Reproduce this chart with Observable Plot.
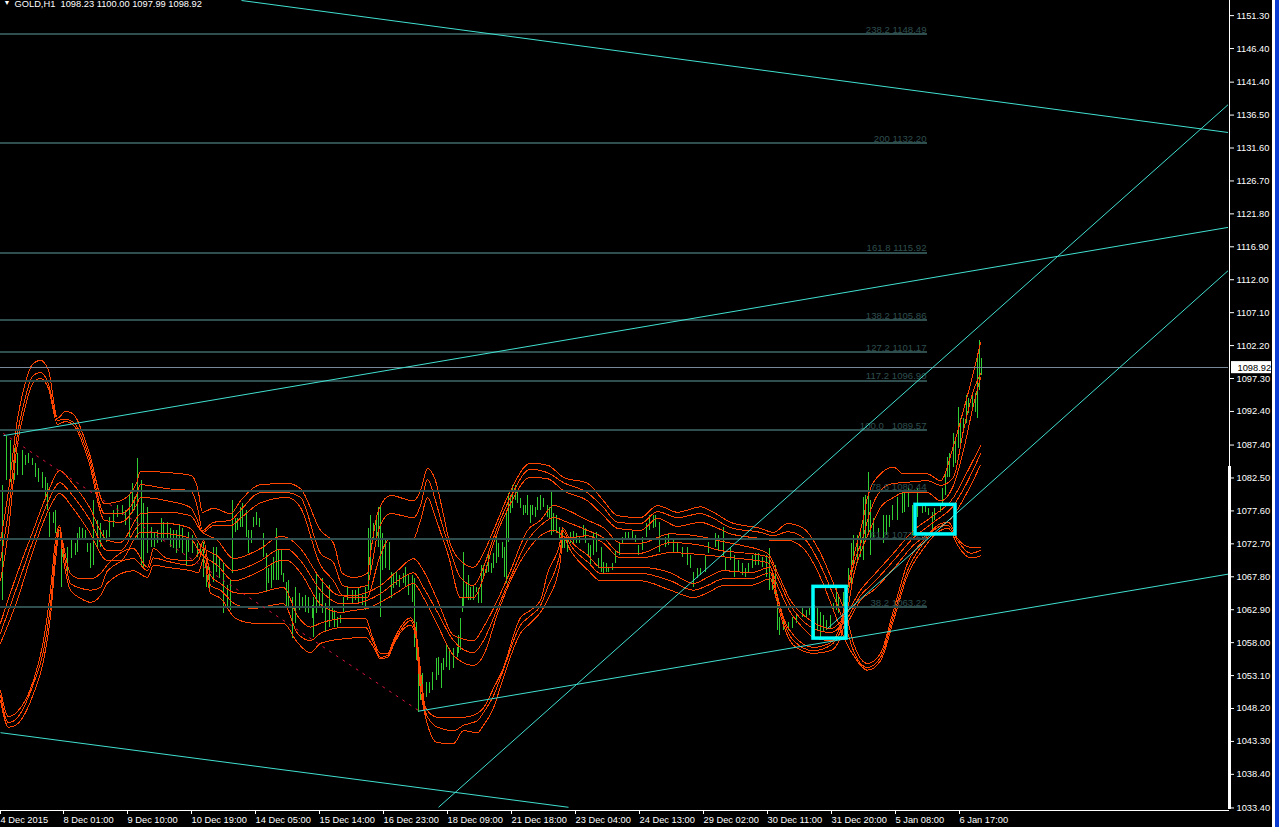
<!DOCTYPE html>
<html><head><meta charset="utf-8">
<script src="https://cdn.jsdelivr.net/npm/d3@7"></script>
<script src="https://cdn.jsdelivr.net/npm/@observablehq/plot@0.6"></script>
<style>
html,body{margin:0;padding:0;background:#000;overflow:hidden}
#c{position:absolute;left:0;top:0}
.s1{position:absolute;left:1272px;top:0;width:3px;height:827px;background:#fff}
.s2{position:absolute;left:1275px;top:0;width:4px;height:827px;background:#0a3cd2}
</style></head><body>
<div id="c"></div><div class="s1"></div><div class="s2"></div>
<script>
const header = "GOLD,H1  1098.23 1100.00 1097.99 1098.92";
const priceTicks = [1151.30,1146.40,1141.40,1136.50,1131.60,1126.70,1121.80,1116.90,1112.00,1107.10,1102.20,1097.30,1092.40,1087.40,1082.50,1077.60,1072.70,1067.80,1062.90,1058.00,1053.10,1048.20,1043.30,1038.40,1033.40];
const timeTicks = [1,64,128,192,256,320,384,448,512,576,640,704,768,832,896,960];
const timeLabels = ["4 Dec 2015","8 Dec 01:00","9 Dec 10:00","10 Dec 19:00","14 Dec 05:00","15 Dec 14:00","16 Dec 23:00","18 Dec 09:00","21 Dec 18:00","23 Dec 04:00","24 Dec 13:00","29 Dec 02:00","30 Dec 11:00","31 Dec 20:00","5 Jan 08:00","6 Jan 17:00"];
const fibLevels = [1148.49,1132.20,1115.92,1105.86,1101.17,1096.90,1089.57,1080.44,1073.28,1063.22];
const fibLabels = ["238.2 1148.49","200 1132.20","161.8 1115.92","138.2 1105.86","127.2 1101.17","117.2 1096.90","100.0\u00a0\u00a0\u00a01089.57","78.6 1080.44","61.8 1073.28","38.2 1063.22"];
const lastPrice = 1098.92;

const barSlots = [2,6,10,14,17,22,25,28,32,35,38,42,45,47,49,53,55,57,61,63,67,71,75,77,79,82,85,87,90,93,97,100,103,106,109,113,117,122,125,129,132,134,137,141,143,147,151,154,157,161,163,167,170,173,176,179,182,186,188,192,197,200,203,206,209,213,216,219,223,227,230,232,235,237,240,242,246,248,251,253,256,259,263,266,268,271,273,276,278,281,283,286,288,292,295,299,302,305,308,312,313,316,319,322,325,329,332,334,337,340,343,347,352,355,358,362,365,368,370,373,376,378,380,382,385,389,391,393,396,399,403,405,408,412,414,416,418,420,422,426,429,432,436,438,441,443,446,449,453,457,458,460,462,463,466,468,470,473,476,478,481,483,486,488,491,493,496,498,502,504,506,508,510,512,515,517,520,523,525,527,530,532,535,537,540,543,547,549,551,553,556,559,562,564,567,570,573,576,579,583,585,588,590,593,596,598,601,603,606,608,612,615,619,622,625,628,632,635,638,642,646,649,653,655,659,665,668,673,677,682,687,690,693,697,700,705,708,715,718,723,725,730,734,738,742,745,748,752,755,758,762,766,769,772,775,777,779,783,788,792,796,802,806,809,814,817,820,823,826,830,833,836,838,843,846,848,851,853,857,860,863,865,868,870,873,878,883,886,889,892,897,902,904,908,912,917,922,925,928,932,934,940,942,945,947,949,953,955,958,960,963,966,968,972,975,977,979,981];
const barHigh = [1081.4,1088.7,1088.1,1086.9,1086.2,1086.6,1085.9,1086.2,1085.4,1084.7,1083.9,1083.3,1082.6,1081.7,1077.4,1077.4,1077.7,1074.4,1073.2,1071.4,1072.2,1073.2,1072.8,1074.2,1075.1,1075.0,1074.7,1072.8,1072.8,1079.1,1076.2,1075.7,1074.7,1074.7,1076.6,1077.7,1078.4,1078.4,1077.7,1079.9,1081.7,1079.6,1085.4,1082.1,1078.7,1078.1,1075.1,1074.2,1074.7,1076.5,1075.9,1075.9,1075.0,1074.7,1074.7,1075.4,1075.0,1073.6,1074.4,1073.9,1072.8,1072.0,1072.9,1070.2,1069.2,1072.2,1072.2,1070.6,1069.8,1066.5,1067.2,1079.1,1076.5,1076.5,1078.1,1078.7,1077.7,1074.7,1074.7,1076.6,1077.4,1076.5,1074.2,1071.3,1069.0,1069.8,1070.6,1075.0,1071.7,1071.7,1068.3,1066.9,1067.2,1064.7,1066.2,1065.3,1064.7,1065.0,1064.7,1063.5,1064.7,1068.4,1065.3,1067.5,1063.8,1066.5,1063.1,1062.8,1061.7,1062.0,1064.7,1066.2,1065.8,1065.8,1066.2,1065.0,1066.2,1075.0,1076.9,1075.7,1076.5,1078.1,1078.1,1074.2,1073.2,1072.9,1068.4,1068.3,1068.4,1068.0,1068.3,1069.2,1068.0,1068.0,1067.5,1061.0,1055.8,1054.3,1053.4,1052.1,1052.1,1053.6,1055.6,1055.8,1054.9,1055.6,1057.9,1057.1,1057.1,1057.3,1059.1,1061.6,1064.7,1071.4,1066.8,1068.0,1066.2,1066.5,1066.2,1066.1,1069.5,1069.5,1069.5,1070.9,1069.8,1071.3,1073.9,1072.8,1072.9,1072.2,1077.4,1080.2,1079.9,1081.4,1081.4,1080.3,1079.4,1078.4,1078.4,1079.9,1078.4,1078.4,1078.1,1079.6,1079.9,1079.4,1078.4,1078.1,1080.6,1077.2,1076.9,1075.1,1075.1,1073.6,1073.2,1074.4,1074.5,1074.2,1073.6,1075.4,1075.0,1072.8,1072.5,1074.2,1074.4,1070.5,1072.2,1069.9,1069.8,1069.0,1069.8,1071.7,1072.9,1073.6,1074.4,1074.4,1074.5,1073.9,1072.5,1073.6,1075.7,1076.9,1076.9,1076.9,1075.9,1073.6,1074.2,1073.2,1072.8,1072.2,1072.2,1070.9,1068.4,1069.0,1069.0,1070.9,1072.9,1074.2,1073.9,1075.1,1070.6,1072.2,1070.9,1070.2,1069.8,1069.0,1069.8,1070.9,1071.3,1071.3,1070.6,1070.9,1072.0,1068.7,1069.5,1064.7,1061.7,1061.3,1061.0,1061.7,1062.3,1063.1,1062.8,1063.2,1063.5,1063.1,1062.5,1062.0,1061.3,1062.0,1063.8,1066.5,1064.7,1065.4,1066.1,1069.0,1072.8,1073.9,1073.9,1074.7,1079.6,1079.9,1083.3,1079.1,1076.5,1075.0,1076.9,1076.9,1076.9,1078.4,1079.6,1080.6,1080.6,1080.9,1078.4,1080.9,1078.4,1078.4,1078.0,1077.4,1078.0,1078.7,1080.9,1083.1,1085.5,1086.2,1089.1,1088.5,1093.0,1091.3,1091.3,1094.8,1094.3,1095.1,1095.1,1100.3,1103.0,1100.3];
const barLow = [1064.3,1082.1,1081.8,1082.1,1082.9,1082.9,1084.4,1084.7,1084.4,1082.6,1081.8,1080.9,1079.1,1077.7,1073.6,1075.7,1074.2,1072.8,1066.2,1069.8,1068.0,1070.5,1070.9,1071.4,1073.2,1073.5,1073.2,1071.4,1069.0,1069.5,1072.2,1072.2,1073.5,1072.9,1073.6,1075.1,1076.6,1076.9,1075.4,1073.6,1077.2,1077.7,1073.2,1069.5,1069.2,1071.3,1072.2,1072.2,1072.8,1072.9,1073.2,1073.2,1072.2,1072.0,1071.3,1072.0,1071.3,1069.5,1071.4,1071.3,1070.6,1071.3,1067.7,1066.2,1066.1,1066.9,1068.4,1067.5,1062.3,1063.2,1062.8,1068.3,1074.4,1074.7,1075.1,1075.1,1073.6,1071.3,1072.8,1075.1,1075.4,1075.1,1070.6,1065.4,1066.8,1066.1,1067.2,1067.2,1067.2,1068.0,1066.9,1063.1,1063.2,1058.6,1060.9,1062.8,1063.2,1062.5,1062.3,1061.6,1058.8,1062.3,1063.2,1062.3,1059.5,1060.3,1061.3,1060.3,1060.1,1060.9,1062.3,1064.3,1063.8,1064.3,1063.8,1063.5,1062.8,1065.8,1068.7,1073.2,1073.2,1072.2,1061.7,1068.7,1069.0,1068.7,1064.6,1066.1,1066.5,1066.2,1066.8,1066.2,1065.0,1064.0,1057.3,1055.3,1047.6,1049.4,1048.9,1049.8,1050.4,1050.9,1052.4,1053.1,1051.2,1053.9,1054.3,1053.9,1054.2,1055.8,1056.4,1056.8,1062.5,1063.2,1064.6,1064.3,1064.3,1064.3,1065.4,1063.8,1063.8,1067.5,1068.3,1068.4,1068.3,1069.0,1069.8,1070.6,1070.5,1067.7,1066.8,1072.9,1077.2,1078.0,1079.1,1078.7,1078.0,1076.9,1077.2,1076.9,1075.7,1076.9,1076.6,1077.7,1077.7,1078.1,1076.6,1076.5,1073.9,1074.4,1074.2,1073.5,1072.0,1072.0,1071.4,1072.8,1072.8,1072.8,1072.8,1073.6,1072.8,1070.9,1069.5,1070.9,1071.4,1069.0,1068.4,1068.3,1068.4,1068.4,1068.7,1069.8,1070.9,1072.8,1073.5,1073.5,1073.5,1072.9,1070.9,1071.7,1073.6,1074.7,1075.0,1075.1,1071.4,1072.2,1072.5,1071.3,1071.3,1070.6,1069.5,1069.0,1066.2,1067.5,1068.0,1068.4,1071.3,1072.2,1071.7,1070.6,1068.7,1070.2,1067.7,1068.4,1068.0,1067.7,1068.4,1069.0,1069.5,1069.5,1069.2,1067.7,1065.8,1065.8,1064.7,1059.8,1059.1,1059.8,1059.8,1060.1,1060.9,1061.7,1061.7,1062.0,1058.8,1059.8,1058.6,1059.5,1059.8,1060.1,1062.5,1062.8,1062.3,1062.8,1064.0,1066.2,1066.2,1069.8,1069.8,1070.6,1070.2,1073.2,1074.2,1070.9,1073.6,1073.5,1072.8,1073.9,1075.1,1076.2,1076.2,1077.2,1077.4,1078.1,1073.9,1076.6,1077.2,1077.4,1076.9,1074.7,1076.2,1077.4,1078.7,1079.9,1082.6,1082.6,1084.1,1084.7,1086.9,1087.3,1089.1,1090.6,1092.1,1092.6,1092.2,1091.3,1095.5,1097.7];

const upperSlots = [0,8,16,24,32,40,48,57,65,72,88,104,120,136,140,167,190,197,202,213,230,240,260,287,300,320,333,342,353,367,370,378,390,413,420,427,435,442,448,460,473,483,493,510,530,547,563,587,603,617,640,657,677,700,713,730,760,773,787,803,820,833,847,853,867,880,893,907,923,940,948,957,970,980];
const upper1 = [1073.2,1080.6,1090.3,1096.2,1099.4,1100.0,1098.5,1091.4,1092.4,1092.1,1086.6,1078.7,1079.1,1081.7,1083.5,1083.3,1082.9,1081.1,1077.4,1078.0,1077.2,1079.1,1081.5,1081.7,1080.9,1074.7,1072.8,1068.3,1067.7,1068.3,1071.3,1077.7,1079.9,1079.1,1080.6,1083.9,1082.1,1077.7,1073.6,1070.2,1069.2,1071.3,1074.7,1080.6,1084.7,1084.4,1082.6,1081.7,1079.1,1076.9,1076.6,1078.4,1077.4,1078.2,1077.4,1075.9,1075.0,1074.4,1075.7,1075.0,1071.3,1066.8,1061.3,1057.9,1054.9,1056.4,1062.8,1069.8,1073.2,1075.7,1075.9,1073.5,1072.2,1072.2];
const upper2 = [1070.2,1077.7,1088.1,1094.0,1097.6,1098.2,1096.5,1091.1,1091.2,1090.9,1085.9,1077.2,1077.2,1079.9,1081.5,1080.9,1080.6,1078.1,1074.7,1075.9,1076.2,1077.7,1080.3,1080.3,1079.6,1071.3,1069.9,1066.5,1066.2,1066.5,1068.4,1074.7,1077.2,1076.6,1078.4,1082.3,1079.1,1075.4,1072.5,1067.7,1066.5,1069.2,1073.6,1079.6,1083.8,1083.3,1081.8,1080.3,1078.1,1075.9,1075.7,1077.5,1076.6,1077.2,1076.5,1075.1,1074.4,1073.9,1074.5,1073.6,1069.5,1065.0,1059.5,1056.8,1054.3,1055.8,1062.0,1068.7,1072.8,1075.3,1075.4,1073.2,1071.3,1071.7];
const upper3 = [1067.2,1074.7,1086.6,1092.6,1096.5,1097.3,1095.8,1090.5,1090.9,1090.5,1085.1,1076.2,1075.9,1078.5,1079.6,1079.1,1078.1,1076.2,1074.4,1075.4,1075.4,1076.5,1078.8,1079.6,1078.1,1069.5,1067.2,1065.0,1064.7,1064.7,1065.8,1070.2,1073.5,1073.5,1076.2,1079.6,1076.6,1073.6,1070.9,1064.7,1064.7,1067.7,1072.8,1078.7,1082.6,1082.4,1080.6,1079.1,1076.9,1075.0,1074.7,1076.5,1075.3,1075.9,1075.3,1074.2,1073.5,1073.2,1073.2,1072.0,1067.7,1062.8,1057.6,1056.1,1053.9,1055.3,1061.3,1068.0,1072.0,1074.7,1075.0,1072.5,1070.6,1070.9];

const middleSlots = [0,16,32,48,59,72,88,107,120,136,140,167,190,200,217,233,260,280,287,300,320,340,353,367,380,397,413,423,437,453,473,483,497,510,527,540,553,567,587,603,620,640,670,700,720,740,767,777,790,800,813,830,847,860,873,893,913,933,953,965,980];
const middle1 = [1060.9,1068.0,1074.4,1080.6,1083.6,1081.7,1078.4,1073.2,1072.9,1076.5,1077.2,1077.4,1076.9,1074.7,1073.2,1070.5,1072.0,1073.8,1073.6,1072.0,1067.5,1065.0,1065.0,1065.5,1066.5,1068.7,1070.5,1068.7,1064.3,1059.1,1058.3,1060.3,1064.3,1068.7,1074.7,1076.2,1078.4,1077.7,1076.2,1075.1,1072.8,1072.8,1074.2,1073.8,1073.1,1072.5,1071.3,1068.4,1064.3,1062.5,1061.0,1060.1,1062.5,1065.8,1068.0,1071.3,1074.7,1076.9,1079.6,1082.9,1087.3];
const middle2 = [1059.4,1066.1,1072.9,1079.1,1081.8,1079.9,1076.6,1071.7,1071.7,1075.1,1075.7,1075.7,1075.0,1072.5,1070.9,1068.7,1070.2,1071.9,1071.9,1070.2,1065.8,1063.8,1063.8,1064.3,1065.3,1067.2,1068.4,1066.2,1062.5,1058.3,1056.5,1058.3,1063.1,1067.7,1073.2,1075.4,1076.6,1075.9,1074.7,1073.6,1071.3,1071.3,1072.9,1072.5,1071.7,1071.4,1070.8,1067.7,1063.5,1061.6,1060.1,1059.5,1061.7,1065.0,1066.9,1070.2,1073.6,1075.9,1078.4,1081.4,1086.1];
const middle3 = [1057.9,1064.0,1071.4,1077.7,1080.2,1078.1,1074.7,1070.2,1070.2,1073.9,1074.4,1074.2,1073.5,1071.3,1069.5,1067.2,1068.7,1070.2,1070.2,1068.4,1063.7,1062.5,1062.8,1063.1,1064.0,1065.5,1066.8,1064.7,1060.6,1056.1,1054.6,1056.1,1062.3,1067.2,1071.7,1073.9,1074.7,1073.6,1073.9,1072.8,1070.6,1070.6,1071.4,1071.1,1070.8,1070.5,1069.9,1066.5,1062.5,1060.6,1058.8,1058.3,1061.0,1064.3,1065.8,1069.0,1072.5,1074.7,1076.9,1079.9,1084.4];

const lowerSlots = [0,8,16,33,43,50,55,59,62,70,80,90,100,107,133,147,153,167,190,198,203,210,220,235,253,283,297,310,320,345,365,372,380,387,393,400,410,415,420,425,437,453,463,477,483,493,502,520,530,540,547,560,562,570,588,600,640,670,693,707,723,750,770,775,783,793,813,830,840,847,853,863,867,880,893,903,927,940,953,963,973,980];
const lower1 = [1050.9,1047.0,1047.6,1052.4,1058.3,1065.8,1073.2,1075.4,1073.2,1068.3,1067.5,1067.5,1068.3,1069.6,1072.0,1069.2,1072.0,1070.5,1070.2,1071.3,1073.2,1068.0,1066.8,1065.4,1065.3,1066.2,1062.0,1060.3,1060.9,1061.6,1061.6,1058.8,1056.4,1056.4,1058.3,1060.3,1061.7,1060.1,1053.9,1048.3,1046.9,1046.9,1046.9,1047.5,1048.3,1051.2,1053.9,1061.7,1062.8,1064.3,1068.3,1073.2,1075.1,1073.2,1070.9,1069.2,1069.2,1068.4,1066.8,1067.7,1068.7,1068.4,1069.2,1066.2,1061.7,1059.1,1057.3,1058.0,1060.6,1066.2,1070.6,1076.6,1079.6,1083.1,1084.1,1083.1,1083.1,1082.1,1087.3,1092.6,1098.2,1102.6];
const lower2 = [1050.1,1046.1,1046.7,1051.9,1056.8,1063.5,1071.7,1075.1,1072.5,1066.8,1066.1,1065.8,1066.2,1068.7,1070.5,1068.7,1070.6,1070.1,1069.5,1070.2,1072.0,1066.5,1065.8,1063.7,1063.1,1063.8,1059.4,1058.3,1059.4,1060.3,1060.3,1058.3,1055.8,1056.1,1057.9,1059.8,1061.3,1059.5,1052.4,1047.6,1045.4,1044.9,1045.7,1046.4,1047.6,1050.1,1053.6,1060.6,1062.0,1063.5,1066.2,1071.7,1074.7,1072.5,1069.9,1068.3,1068.3,1067.2,1065.8,1066.5,1067.5,1067.5,1068.4,1065.8,1061.3,1058.3,1056.8,1057.6,1059.8,1065.0,1069.5,1073.9,1076.2,1080.6,1081.7,1081.8,1082.1,1081.4,1082.6,1089.6,1095.5,1098.0];
const lower3 = [1049.4,1045.4,1045.8,1050.4,1055.3,1062.0,1070.2,1074.7,1071.3,1065.8,1064.6,1064.0,1065.0,1066.9,1068.7,1067.7,1069.5,1069.2,1068.7,1068.4,1070.5,1065.4,1064.6,1061.6,1060.9,1060.9,1058.0,1056.5,1057.9,1058.6,1058.8,1057.6,1055.6,1055.8,1057.6,1059.5,1060.6,1059.1,1050.9,1047.0,1043.1,1043.0,1044.9,1044.6,1045.7,1048.3,1052.4,1059.4,1060.9,1062.5,1064.3,1070.2,1073.9,1071.7,1068.7,1067.2,1067.2,1065.8,1064.7,1065.4,1066.5,1066.5,1067.5,1065.0,1060.6,1057.6,1056.4,1056.8,1058.8,1062.8,1068.0,1072.5,1073.9,1078.1,1079.6,1080.3,1080.3,1079.1,1081.4,1086.6,1093.4,1097.4];

const trendStartSlot = [241,3,418,438,827,0];
const trendEndSlot = [1228,1228,1228,1228,1228,568];
const trendStartPrice = [1153.55,1088.8,1047.8,1033.5,1060.1,1044.6];
const trendEndPrice = [1133.9,1119.8,1068.2,1138.1,1113.4,1033.5];
const zigzagSlot = [3,418];
const zigzagPrice = [1089.1,1047.9];
const boxSlotL = [813,915], boxSlotR = [846,955], boxTop = [1066.3,1078.5], boxBottom = [1058.6,1074.1];

const ORANGE = "#FF4500", FIB = "#2F4F4F", TREND = "#40E0D0";
const band = (slots, vals) => Plot.line(vals, {x: slots, y: vals, stroke: ORANGE, strokeWidth: 1, curve: "monotone-x", shapeRendering: "crispEdges"});

const chart = Plot.plot({
  width: 1279, height: 827,
  marginLeft: 0, marginRight: 51, marginTop: 0, marginBottom: 18,
  x: {domain: [0, 1228], axis: null},
  y: {domain: [1033.17, 1153.55], axis: null},
  style: {background: "#000", color: "#fff", fontFamily: "'Liberation Sans', sans-serif", fontSize: "9.3px", overflow: "visible"},
  marks: [
    Plot.ruleX(barSlots, {x: barSlots, y1: barHigh, y2: barLow, stroke: "#32CD32", strokeWidth: 1.2, shapeRendering: "crispEdges"}),
    ...[upper1, upper2, upper3].map(v => band(upperSlots, v)),
    ...[middle1, middle2, middle3].map(v => band(middleSlots, v)),
    ...[lower1, lower2, lower3].map(v => band(lowerSlots, v)),
    Plot.ruleY(fibLevels, {y: d => d, x1: 0, x2: 927, stroke: FIB, strokeWidth: 2, dy: -0.5, shapeRendering: "crispEdges"}),
    Plot.text(fibLabels, {x: 926, y: fibLevels, text: d => d, textAnchor: "end", dy: -5, fill: FIB, fontSize: 9.6}),
    Plot.ruleY([lastPrice], {y: d => d, x1: 0, x2: 1228, stroke: "#778899", strokeWidth: 1, dy: -0.5, shapeRendering: "crispEdges"}),
    Plot.line(zigzagPrice, {x: zigzagSlot, y: zigzagPrice, stroke: "#DC143C", strokeWidth: 1, strokeDasharray: "2,6"}),
    Plot.link(trendStartSlot, {x1: trendStartSlot, x2: trendEndSlot, y1: trendStartPrice, y2: trendEndPrice, stroke: TREND, strokeWidth: 1, clip: "frame"}),
    Plot.rect(boxSlotL, {x1: boxSlotL, x2: boxSlotR, y1: boxTop, y2: boxBottom, fill: "none", stroke: "#00FFFF", strokeWidth: 3.5}),
    Plot.ruleX([1229], {x: d => d, stroke: "#fff", strokeWidth: 1}),
    Plot.ruleX([1229], {x: d => d, y1: 1084.2, y2: 1033.17, stroke: "#fff", strokeWidth: 3}),
    Plot.ruleY([1033.17], {y: d => d, x1: 0, x2: 1229, stroke: "#fff", strokeWidth: 1, dy: 1}),
    Plot.axisY(priceTicks, {anchor: "right", tickSize: 4, tickPadding: 3, tickFormat: d => d.toFixed(2), label: null, x: 1229}),
    Plot.axisX(timeTicks, {anchor: "bottom", tickSize: 4, tickPadding: 2, dx: -1, dy: 1, textAnchor: "start", tickFormat: d => timeLabels[timeTicks.indexOf(d)], label: null}),
    Plot.rect([lastPrice], {x1: 1231, x2: 1271, y1: lastPrice + 0.9, y2: lastPrice - 0.9, fill: "#fff"}),
    Plot.text([lastPrice], {x: 1237, y: d => d, text: d => d.toFixed(2), textAnchor: "start", fill: "#000"}),
    Plot.text(["\u25BC"], {frameAnchor: "top-left", dx: 3, dy: 0, fill: "#fff", fontSize: 7}),
    Plot.text([header], {frameAnchor: "top-left", dx: 14, dy: 0, fill: "#fff", textAnchor: "start", fontSize: 9.3})
  ]
});
document.getElementById("c").appendChild(chart);
</script></body></html>
